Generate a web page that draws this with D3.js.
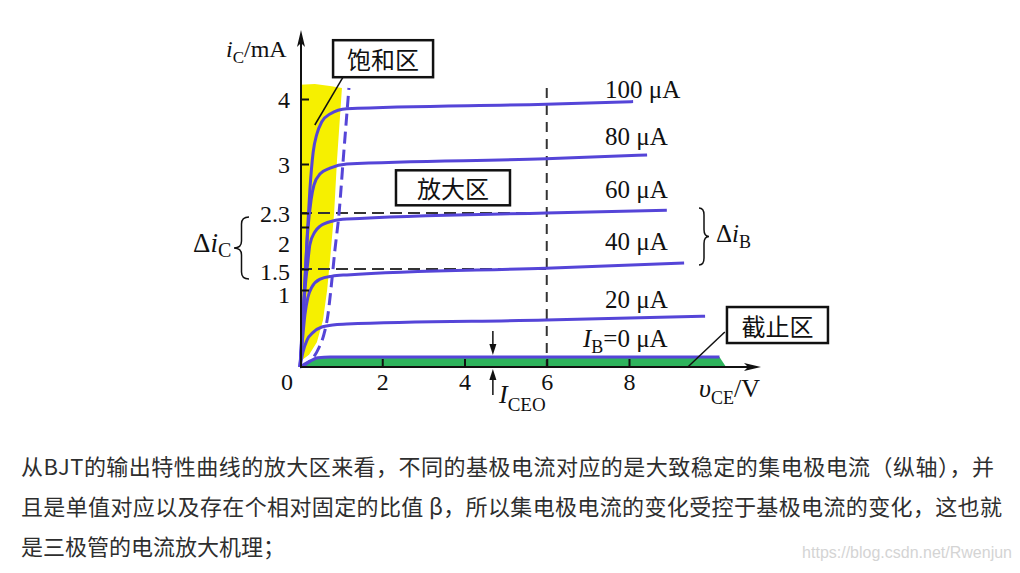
<!DOCTYPE html>
<html>
<head>
<meta charset="utf-8">
<script src="https://cdn.jsdelivr.net/npm/d3@7"></script>
<style>
  body { margin: 0; background: #fff; }
  svg text { font-family: "Liberation Serif", "DejaVu Serif", serif; fill: #111; }
  svg text.cn { font-family: "Noto Sans CJK SC", sans-serif; }
  svg text.mark { font-family: "Liberation Sans", Arial, sans-serif; }
</style>
</head>
<body>
<svg id="chart" width="1020" height="573"></svg>
<script>
// output characteristics, points are [vCE in V, iC in mA]
const vTicks = [2, 4, 6, 8]
const iTicks = [1, 1.5, 2, 2.3, 3, 4]

const ib100 = [[0,0],[0.05,0.35],[0.10,0.87],[0.17,1.85],[0.24,2.63],[0.32,3.18],[0.41,3.46],[0.53,3.65],[0.73,3.77],[1.14,3.85],[5.98,3.92],[8.10,3.96]]
const ib80 = [[0,0],[0.05,0.48],[0.12,1.24],[0.19,1.96],[0.27,2.49],[0.34,2.70],[0.49,2.86],[0.73,2.94],[1.14,3.00],[5.98,3.08],[8.44,3.14]]
const ib60 = [[0,0],[0.05,0.42],[0.12,1.0],[0.19,1.58],[0.24,1.79],[0.36,1.94],[0.49,2.02],[0.80,2.13],[1.14,2.17],[5.98,2.30],[8.92,2.34]]
const ib40 = [[0,0],[0.05,0.29],[0.12,0.68],[0.19,0.90],[0.29,1.07],[0.49,1.26],[0.78,1.33],[1.14,1.36],[5.98,1.51],[9.34,1.57]]
const ib20 = [[0,0],[0.07,0.19],[0.17,0.35],[0.32,0.45],[0.53,0.52],[0.85,0.55],[1.14,0.56],[5.98,0.61],[9.85,0.66]]
const ib0 = [[0,0],[0.19,0.06],[0.44,0.12],[0.73,0.13],[10.2,0.13]]
const curveNames = ["100 μA", "80 μA", "60 μA", "40 μA", "20 μA"]

// saturation boundary and the yellow saturation region
const satEdge = [[0,0],[0.15,0.04],[0.32,0.12],[0.46,0.25],[0.58,0.42],[0.68,0.68],[0.75,1.0],[0.85,1.73],[0.95,2.3],[1.05,3.06],[1.19,4.17]]
const satRegion = [[0,4.22],[0.36,4.23],[0.73,4.2],[1.02,4.17],[0.90,3.06],[0.83,2.3],[0.73,1.61],[0.66,1.0],[0.56,0.61],[0.41,0.32],[0.22,0.16],[0.05,0.09],[0,0.1]]
const cutoffEnd = 10.36
const dashLevels = [2.3, 1.5]
const dashV = 6
const iceoV = 4.69

const paragraph = [
    "从BJT的输出特性曲线的放大区来看，不同的基极电流对应的是大致稳定的集电极电流（纵轴），并",
    "且是单值对应以及存在个相对固定的比值 β，所以集电极电流的变化受控于基极电流的变化，这也就",
    "是三极管的电流放大机理；"
]
const paraWidth = [973, 981, null]

const blue = "#5545d8"

let svg = d3.select("#chart")
let xScale = d3.scaleLinear().domain([0, 8]).range([300, 629])
let yScale = d3.scaleLinear().domain([0, 1, 1.5, 2, 2.3, 3, 4]).range([367, 290, 269, 227, 213, 164, 99])

let line = d3.line().x(d => xScale(d[0])).y(d => yScale(d[1]))

// yellow saturation region
svg.append("path")
    .attr("d", d3.line().x(d => xScale(d[0])).y(d => yScale(d[1])).curve(d3.curveLinearClosed)(satRegion))
    .attr("fill", "#f6f000")

// green cut-off band
svg.append("path")
    .attr("d", d3.area().x(d => xScale(d[0])).y0(yScale(0)).y1(d => yScale(d[1]))(ib0.concat([[cutoffEnd, 0]])))
    .attr("fill", "#2eb35c")

// grey dashed guides
dashLevels.forEach(v => {
    svg.append("line")
        .attr("x1", xScale(0)).attr("x2", xScale(dashV))
        .attr("y1", yScale(v)).attr("y2", yScale(v))
        .attr("stroke", "#333").attr("stroke-width", 2).attr("stroke-dasharray", "12,6")
})
svg.append("line")
    .attr("x1", xScale(dashV)).attr("x2", xScale(dashV))
    .attr("y1", yScale(4.17)).attr("y2", yScale(0))
    .attr("stroke", "#333").attr("stroke-width", 2).attr("stroke-dasharray", "10,7")

// characteristic curves
let curves = [ib100, ib80, ib60, ib40, ib20, ib0]
svg.append("g").selectAll("path")
    .data(curves)
    .enter()
    .append("path")
    .attr("fill", "none")
    .attr("stroke", blue)
    .attr("stroke-width", 3)
    .attr("d", d => line.curve(d3.curveMonotoneX)(d))

svg.append("path")
    .attr("fill", "none")
    .attr("stroke", blue)
    .attr("stroke-width", 3)
    .attr("stroke-dasharray", "12,6")
    .attr("d", line.curve(d3.curveMonotoneX)(satEdge))

// axes
let xAxis = d3.axisBottom(xScale).tickValues(vTicks).tickSize(-8).tickSizeOuter(0).tickPadding(6)
let gx = svg.append("g").attr("transform", `translate(0,${yScale(0)})`).call(xAxis)
gx.select(".domain").remove()
gx.selectAll("line").attr("stroke", "#111").attr("stroke-width", 2)
gx.selectAll("text").attr("font-size", 24).attr("font-family", "Liberation Serif").attr("fill", "#111")

let yAxis = d3.axisLeft(yScale).tickValues(iTicks).tickSize(-8).tickSizeOuter(0).tickPadding(11)
    .tickFormat(d => d)
let gy = svg.append("g").attr("transform", `translate(${xScale(0) + 1},0)`).call(yAxis)
gy.select(".domain").remove()
gy.selectAll("line").attr("stroke", "#111").attr("stroke-width", 2)
gy.selectAll("text").attr("font-size", 24).attr("font-family", "Liberation Serif").attr("fill", "#111")
    .attr("dy", d => d === 2 ? "1.0em" : d === 1.5 ? "0.42em" : d === 1 ? "0.5em" : "0.35em")

svg.append("text").attr("x", xScale(0) - 13).attr("y", 390).attr("font-size", 24)
    .attr("text-anchor", "middle").text("0")

// axis lines and arrows
let ax0 = xScale(0) + 1, ay0 = yScale(0)
svg.append("line").attr("x1", ax0).attr("x2", ax0).attr("y1", ay0 + 1).attr("y2", 40)
    .attr("stroke", "#111").attr("stroke-width", 2)
svg.append("path").attr("d", `M${ax0},30 L${ax0 - 4},47 L${ax0},43 L${ax0 + 4},47 Z`).attr("fill", "#111")
svg.append("line").attr("x1", ax0 - 1).attr("x2", 750).attr("y1", ay0).attr("y2", ay0)
    .attr("stroke", "#111").attr("stroke-width", 2)
svg.append("path").attr("d", `M761,${ay0} L744,${ay0 - 4} L748,${ay0} L744,${ay0 + 4} Z`).attr("fill", "#111")

// axis titles
let yt = svg.append("text").attr("x", 226).attr("y", 57).attr("font-size", 24)
yt.append("tspan").attr("font-style", "italic").text("i")
yt.append("tspan").attr("font-size", 17).attr("dy", 6).text("C")
yt.append("tspan").attr("dy", -6).text("/mA")

let xt = svg.append("text").attr("x", 699).attr("y", 397).attr("font-size", 26)
xt.append("tspan").attr("font-style", "italic").text("υ")
xt.append("tspan").attr("font-size", 18).attr("dy", 7).text("CE")
xt.append("tspan").attr("dy", -7).text("/V")

// curve labels
let labelDy = [-4, -10, -12, -13, -8]
let ends = [ib100, ib80, ib60, ib40, ib20].map(c => c[c.length - 1])
svg.append("g").selectAll("text")
    .data(curveNames)
    .enter()
    .append("text")
    .attr("x", 605)
    .attr("y", (d, i) => yScale(ends[i][1]) + labelDy[i])
    .attr("font-size", 25)
    .text(d => d)

let ib0t = svg.append("text").attr("x", 583).attr("y", yScale(ib0[ib0.length - 1][1]) - 10).attr("font-size", 25)
ib0t.append("tspan").attr("font-style", "italic").text("I")
ib0t.append("tspan").attr("font-size", 18).attr("dy", 6).text("B")
ib0t.append("tspan").attr("dy", -6).text("=0 μA")

// ICEO marker
let ix = xScale(iceoV)
let iTop = yScale(ib0[ib0.length - 1][1])
svg.append("line").attr("x1", ix).attr("x2", ix).attr("y1", iTop - 26).attr("y2", iTop - 8)
    .attr("stroke", "#111").attr("stroke-width", 1.5)
svg.append("path").attr("d", `M${ix},${iTop - 2} L${ix - 3.5},${iTop - 13} L${ix + 3.5},${iTop - 13} Z`).attr("fill", "#111")
svg.append("line").attr("x1", ix).attr("x2", ix).attr("y1", ay0 + 12).attr("y2", ay0 + 28)
    .attr("stroke", "#111").attr("stroke-width", 1.5)
svg.append("path").attr("d", `M${ix},${ay0 + 2} L${ix - 3.5},${ay0 + 13} L${ix + 3.5},${ay0 + 13} Z`).attr("fill", "#111")
let ice = svg.append("text").attr("x", 499).attr("y", 403).attr("font-size", 26)
ice.append("tspan").attr("font-style", "italic").text("I")
ice.append("tspan").attr("font-size", 19).attr("dy", 8).text("CEO")

// braces
function brace(x0, y0, y1, w) {
    let ym = (y0 + y1) / 2, xm = x0 + w / 2, r = 7
    return `M${x0},${y0} Q${xm},${y0} ${xm},${y0 + r} L${xm},${ym - r} Q${xm},${ym} ${x0 + w},${ym}` +
        ` Q${xm},${ym} ${xm},${ym + r} L${xm},${y1 - r} Q${xm},${y1} ${x0},${y1}`
}
svg.append("path").attr("d", brace(699, yScale(2.3) - 5, yScale(1.57) + 2, 10))
    .attr("fill", "none").attr("stroke", "#111").attr("stroke-width", 1.5)
svg.append("path").attr("d", brace(249, yScale(2.3) + 4, yScale(1.5) + 10, -15))
    .attr("fill", "none").attr("stroke", "#111").attr("stroke-width", 1.5)

let dib = svg.append("text").attr("x", 716).attr("y", 242).attr("font-size", 25)
dib.append("tspan").text("Δ")
dib.append("tspan").attr("font-style", "italic").text("i")
dib.append("tspan").attr("font-size", 18).attr("dy", 6).text("B")

let dic = svg.append("text").attr("x", 193).attr("y", 252).attr("font-size", 27)
dic.append("tspan").text("Δ")
dic.append("tspan").attr("font-style", "italic").text("i")
dic.append("tspan").attr("font-size", 20).attr("dy", 5).text("C")

// region boxes
function regionBox(cx, cy, w, h, label) {
    let g = svg.append("g")
    g.append("rect").attr("x", cx - w / 2).attr("y", cy - h / 2).attr("width", w).attr("height", h)
        .attr("fill", "#fff").attr("stroke", "#111").attr("stroke-width", 2.5)
    g.append("text").attr("class", "cn").attr("x", cx).attr("y", cy).attr("font-size", 24)
        .attr("text-anchor", "middle").attr("dominant-baseline", "central").text(label)
}
svg.append("line").attr("x1", xScale(1.05)).attr("y1", yScale(4.34)).attr("x2", xScale(0.36)).attr("y2", yScale(3.6))
    .attr("stroke", "#111").attr("stroke-width", 1.5)
svg.append("line").attr("x1", xScale(10.33)).attr("y1", yScale(0.455)).attr("x2", xScale(9.43)).attr("y2", yScale(0))
    .attr("stroke", "#111").attr("stroke-width", 1.5)
regionBox(xScale(2.02), yScale(4.62), 100, 37, "饱和区")
regionBox(xScale(3.72), yScale(2.66), 114, 35, "放大区")
regionBox(xScale(11.61), yScale(0.545), 101, 36, "截止区")

// text under the figure
svg.append("g").selectAll("text")
    .data(paragraph)
    .enter()
    .append("text")
    .attr("class", "cn")
    .attr("x", 21)
    .attr("y", (d, i) => 475 + i * 40)
    .attr("font-size", 22)
    .attr("textLength", (d, i) => paraWidth[i])
    .attr("lengthAdjust", "spacing")
    .style("fill", "#2e2e2e")
    .text(d => d)

svg.append("text").attr("class", "mark").attr("x", 1012).attr("y", 558).attr("text-anchor", "end")
    .attr("font-size", 16)
    .style("fill", "#d4d4d4").text("https://blog.csdn.net/Rwenjun")
</script>
</body>
</html>
